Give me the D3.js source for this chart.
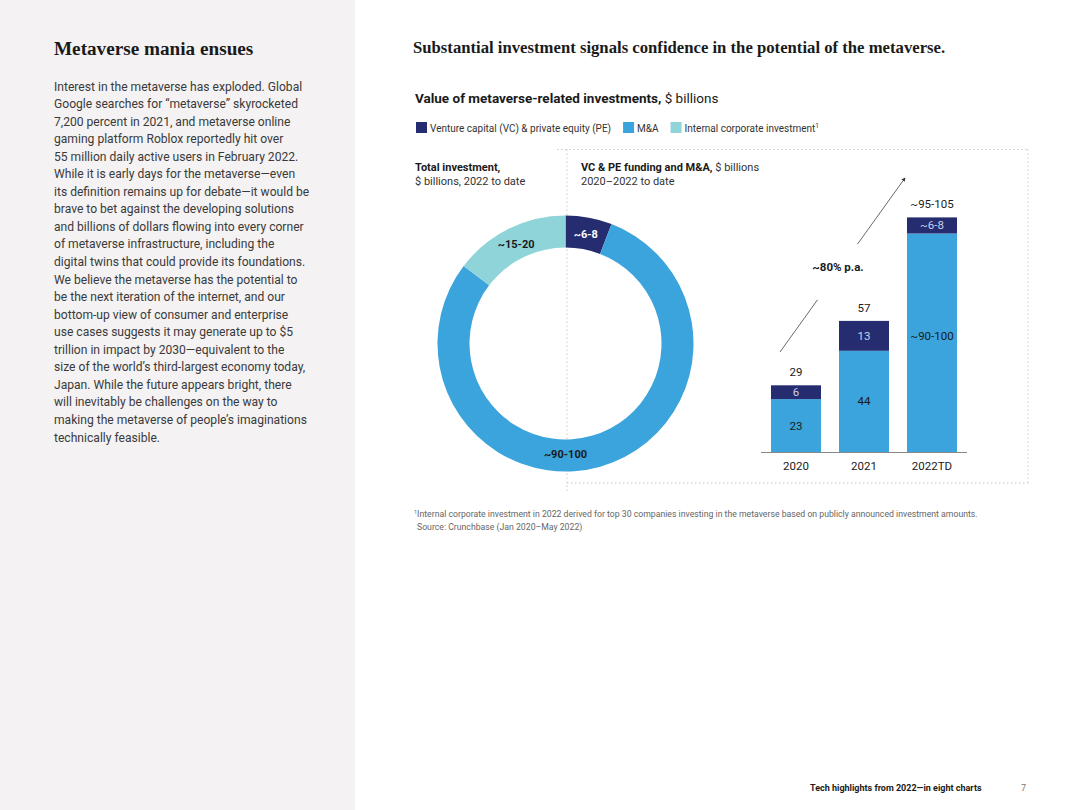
<!DOCTYPE html>
<html>
<head>
<meta charset="utf-8">
<script src="https://cdn.jsdelivr.net/npm/d3@7"></script>
<style>
  html, body { margin: 0; padding: 0; background: #fff; }
  svg { display: block; }
  .sans { font-family: "Roboto", "Liberation Sans", sans-serif; }
  .serif { font-family: "Liberation Serif", "DejaVu Serif", serif; }
</style>
</head>
<body>
<svg id="page" width="1080" height="810"></svg>
<script>
"use strict";

// /////// DATA

const series = ["Venture capital (VC) & private equity (PE)", "M&A", "Internal corporate investment"];
const colors = ["#262c70", "#3ba4dc", "#8fd4d9"];

// donut, 2022 to date (midpoints of the ranges)
const donutValues = [7, 95, 17.5];
const donutLabels = ["~6-8", "~90-100", "~15-20"];

// bars
const years = ["2020", "2021", "2022TD"];
const vcValues = [6, 13, 7];
const maValues = [23, 44, 95];
const vcLabels = ["6", "13", "~6-8"];
const maLabels = ["23", "44", "~90-100"];
const totalLabels = ["29", "57", "~95-105"];

const bodyLines = [
  "Interest in the metaverse has exploded. Global",
  "Google searches for \u201cmetaverse\u201d skyrocketed",
  "7,200 percent in 2021, and metaverse online",
  "gaming platform Roblox reportedly hit over",
  "55 million daily active users in February 2022.",
  "While it is early days for the metaverse\u2014even",
  "its definition remains up for debate\u2014it would be",
  "brave to bet against the developing solutions",
  "and billions of dollars flowing into every corner",
  "of metaverse infrastructure, including the",
  "digital twins that could provide its foundations.",
  "We believe the metaverse has the potential to",
  "be the next iteration of the internet, and our",
  "bottom-up view of consumer and enterprise",
  "use cases suggests it may generate up to $5",
  "trillion in impact by 2030\u2014equivalent to the",
  "size of the world\u2019s third-largest economy today,",
  "Japan. While the future appears bright, there",
  "will inevitably be challenges on the way to",
  "making the metaverse of people\u2019s imaginations",
  "technically feasible."
];

// /////// PAGE

const svg = d3.select("#page");

// Left grey panel
svg.append("rect").attr("x", 0).attr("y", 0).attr("width", 355).attr("height", 810).attr("fill", "#f4f2f3");

svg.append("text").attr("class", "serif")
  .attr("x", 54).attr("y", 55)
  .attr("font-size", 19.2).attr("font-weight", "bold").attr("fill", "#1a1a1a")
  .text("Metaverse mania ensues");

svg.append("g").attr("class", "sans")
  .selectAll("text")
  .data(bodyLines)
  .join("text")
  .attr("x", 54)
  .attr("y", (d, i) => 90.5 + i * 17.55)
  .attr("font-size", 12.1)
  .attr("fill", "#3a3a3a")
  .text((d) => d);

// Right side title
svg.append("text").attr("class", "serif")
  .attr("x", 413).attr("y", 53)
  .attr("font-size", 16.7).attr("font-weight", "bold").attr("fill", "#1a1a1a")
  .text("Substantial investment signals confidence in the potential of the metaverse.");

const sub = svg.append("text").attr("class", "sans")
  .attr("x", 415).attr("y", 103).attr("font-size", 13.5).attr("fill", "#1a1a1a");
sub.append("tspan").attr("font-weight", "bold").text("Value of metaverse-related investments,");
sub.append("tspan").text(" $ billions");

// Legend - items laid out one after another
const legend = svg.append("g").attr("class", "sans");
let legX = 416;
series.forEach((name, i) => {
  const g = legend.append("g").attr("transform", `translate(${legX}, 122)`);
  g.append("rect").attr("width", 11).attr("height", 11).attr("fill", colors[i]);
  const t = g.append("text").attr("x", 14).attr("y", 9.5).attr("font-size", 10).attr("fill", "#333").text(name);
  if (i === 2) t.append("tspan").attr("font-size", 6.5).attr("dy", -4).text("1");
  legX += 14 + t.node().getComputedTextLength() + 12;
});

// Dotted frames
const dotted = svg.append("g").attr("stroke", "#c8c8c8").attr("stroke-width", 1).attr("stroke-dasharray", "1.5,2.5").attr("fill", "none");
dotted.append("line").attr("x1", 557).attr("x2", 1028).attr("y1", 149.5).attr("y2", 149.5);
dotted.append("line").attr("x1", 567).attr("x2", 567).attr("y1", 149.5).attr("y2", 492);
dotted.append("line").attr("x1", 1028).attr("x2", 1028).attr("y1", 149.5).attr("y2", 483);
dotted.append("line").attr("x1", 567).attr("x2", 1028).attr("y1", 483).attr("y2", 483);

// Panel headers
function header(x, boldTxt, restTxt, line2) {
  const t = svg.append("text").attr("class", "sans").attr("x", x).attr("y", 171).attr("font-size", 11).attr("fill", "#1a1a1a");
  t.append("tspan").attr("font-weight", "bold").text(boldTxt);
  if (restTxt) t.append("tspan").attr("fill", "#333").text(restTxt);
  svg.append("text").attr("class", "sans").attr("x", x).attr("y", 185).attr("font-size", 11).attr("fill", "#333").text(line2);
}
header(415, "Total investment,", "", "$ billions, 2022 to date");
header(581, "VC & PE funding and M&A,", " $ billions", "2020\u20132022 to date");

// /////// DONUT

const cx = 565.5, cy = 343.5, outerR = 128, innerR = 96;
const pie = d3.pie().sort(null).value((d) => d);
const arcs = pie(donutValues);
const arc = d3.arc().innerRadius(innerR).outerRadius(outerR);

const donut = svg.append("g").attr("transform", `translate(${cx}, ${cy})`);
donut.selectAll("path")
  .data(arcs)
  .join("path")
  .attr("d", arc)
  .attr("fill", (d, i) => colors[i]);

const labelArc = d3.arc().innerRadius(innerR + 15).outerRadius(innerR + 15);
donut.selectAll("text")
  .data(arcs)
  .join("text")
  .attr("class", "sans")
  .attr("transform", (d, i) => {
    // the big M&A label sits at the bottom of the ring
    if (i === 1) return `translate(${labelArc.centroid({ startAngle: Math.PI, endAngle: Math.PI })})`;
    return `translate(${labelArc.centroid(d)})`;
  })
  .attr("text-anchor", "middle")
  .attr("dy", "0.35em")
  .attr("font-size", 11)
  .attr("font-weight", "bold")
  .attr("fill", (d, i) => (i === 0 ? "#fff" : "#1a1a1a"))
  .text((d, i) => donutLabels[i]);

// /////// BARS

const x = d3.scaleBand().domain(years).range([771 - 9, 957 + 9]).paddingInner(18 / 68).paddingOuter(9 / 68);
const y = d3.scaleLinear().domain([0, 100]).range([452, 222]);
const bw = x.bandwidth();

const bars = svg.append("g").attr("class", "sans");
const barData = years.map((yr, i) => ({ yr, vc: vcValues[i], ma: maValues[i], i }));

bars.selectAll(".ma")
  .data(barData)
  .join("rect")
  .attr("x", (d) => x(d.yr)).attr("width", bw)
  .attr("y", (d) => y(d.ma)).attr("height", (d) => y(0) - y(d.ma))
  .attr("fill", colors[1]);

bars.selectAll(".vc")
  .data(barData)
  .join("rect")
  .attr("x", (d) => x(d.yr)).attr("width", bw)
  .attr("y", (d) => y(d.ma + d.vc)).attr("height", (d) => y(d.ma) - y(d.ma + d.vc))
  .attr("fill", colors[0]);

// segment labels
bars.selectAll(".vcl")
  .data(barData)
  .join("text")
  .attr("x", (d) => x(d.yr) + bw / 2)
  .attr("y", (d) => (y(d.ma) + y(d.ma + d.vc)) / 2)
  .attr("dy", "0.35em").attr("text-anchor", "middle")
  .attr("font-size", 11.5).attr("fill", "#c9d3ee")
  .text((d) => vcLabels[d.i]);

bars.selectAll(".mal")
  .data(barData)
  .join("text")
  .attr("x", (d) => x(d.yr) + bw / 2)
  .attr("y", (d) => (d.i === 2 ? y(d.ma) + 102 : (y(0) + y(d.ma)) / 2))
  .attr("dy", "0.35em").attr("text-anchor", "middle")
  .attr("font-size", 11.5).attr("fill", "#1a1a1a")
  .text((d) => maLabels[d.i]);

bars.selectAll(".tot")
  .data(barData)
  .join("text")
  .attr("x", (d) => x(d.yr) + bw / 2)
  .attr("y", (d) => y(d.ma + d.vc) - 13)
  .attr("dy", "0.35em").attr("text-anchor", "middle")
  .attr("font-size", 11.5).attr("fill", "#1a1a1a")
  .text((d) => totalLabels[d.i]);

// baseline and axis labels
bars.append("line")
  .attr("x1", 761).attr("x2", 967)
  .attr("y1", y(0) + 0.5).attr("y2", y(0) + 0.5)
  .attr("stroke", "#888").attr("stroke-width", 1);

bars.selectAll(".yr")
  .data(years)
  .join("text")
  .attr("x", (d) => x(d) + bw / 2)
  .attr("y", y(0) + 14)
  .attr("dy", "0.35em").attr("text-anchor", "middle")
  .attr("font-size", 11.5).attr("fill", "#1a1a1a")
  .text((d) => d);

// growth annotation
svg.append("defs").append("marker")
  .attr("id", "arrow").attr("viewBox", "0 0 6 6").attr("refX", 5).attr("refY", 3)
  .attr("markerWidth", 5).attr("markerHeight", 5).attr("orient", "auto")
  .append("path").attr("d", "M0,0 L6,3 L0,6 Z").attr("fill", "#333");

const x0 = x("2020") + 9, y0 = y(0) - 100;
const x1 = x("2022TD") - 2, y1 = y(0) - 274;
const t1 = 0.3, t2 = 0.62;
const ann = svg.append("g").attr("stroke", "#444").attr("stroke-width", 0.8);
ann.append("line").attr("x1", x0).attr("y1", y0)
  .attr("x2", x0 + (x1 - x0) * t1).attr("y2", y0 + (y1 - y0) * t1);
ann.append("line").attr("x1", x0 + (x1 - x0) * t2).attr("y1", y0 + (y1 - y0) * t2)
  .attr("x2", x1).attr("y2", y1).attr("marker-end", "url(#arrow)");

svg.append("text").attr("class", "sans")
  .attr("x", 838).attr("y", 267).attr("dy", "0.35em").attr("text-anchor", "middle")
  .attr("font-size", 11.5).attr("font-weight", "bold").attr("fill", "#1a1a1a")
  .text("~80% p.a.");

// /////// FOOTNOTES

const fn = svg.append("text").attr("class", "sans").attr("x", 414).attr("y", 517).attr("font-size", 8.7).attr("fill", "#666");
fn.append("tspan").attr("font-size", 5.5).attr("dy", -3).text("1");
fn.append("tspan").attr("dy", 3).text("Internal corporate investment in 2022 derived for top 30 companies investing in the metaverse based on publicly announced investment amounts.");
svg.append("text").attr("class", "sans").attr("x", 417).attr("y", 530).attr("font-size", 8.7).attr("fill", "#666")
  .text("Source: Crunchbase (Jan 2020\u2013May 2022)");

svg.append("text").attr("class", "sans").attr("x", 810).attr("y", 791).attr("font-size", 9).attr("font-weight", "bold").attr("fill", "#1a1a1a")
  .text("Tech highlights from 2022\u2014in eight charts");
svg.append("text").attr("class", "sans").attr("x", 1021).attr("y", 791).attr("font-size", 9).attr("fill", "#777").text("7");
</script>
</body>
</html>
